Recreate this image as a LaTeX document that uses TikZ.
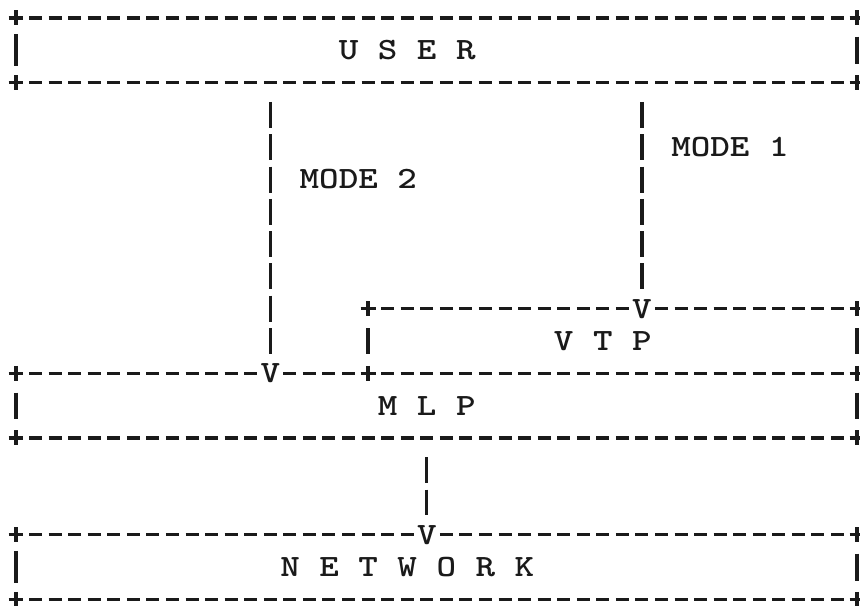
\documentclass[tikz,border=0pt]{standalone}
\definecolor{inkc}{HTML}{1A1A1A}
% typewriter face: Latin Modern Mono, widened so one character fills one cell
\newcommand\twfont{\fontsize{31bp}{31bp}\ttfamily\bfseries}
\newcommand\tw[1]{\scalebox{1.2}[1]{#1}}
\tikzset{
  ink/.style={draw=inkc, line width=3.3bp},
  dashes/.style={ink, dash pattern=on 13bp off 6.56bp},
  bars/.style={ink, dash pattern=on 26bp off 6.3bp, shorten >=9.85bp},
  glyph/.style={inner sep=0pt, text=inkc, font=\twfont},
}
\begin{document}
% one unit = one character cell (column) / one typed line (row)
\begin{tikzpicture}[x=19.56bp, y=-32.3bp]
\fill[white] (-0.818,-0.557) rectangle (43.149,18.204);
\useasboundingbox (-0.818,-0.557) rectangle (43.149,18.204);

% corner crosses of the boxes
\foreach \c/\r in {0/0,43/0,0/2,43/2,18/9,43/9,0/11,18/11,43/11,0/13,43/13,0/16,43/16,0/18,43/18}
  \draw[ink] (\c-0.383,\r) -- (\c+0.383,\r) (\c,\r-0.232) -- (\c,\r+0.232);

% horizontal edges typed as rows of hyphens (first and last cell of each run)
\foreach \r/\a/\b in {0/1/42, 2/1/42,
                      9/19/31, 9/33/42,
                      11/1/12, 11/14/17, 11/19/42,
                      13/1/42,
                      16/1/20, 16/22/42,
                      18/1/42}
  \draw[dashes] (\a-0.332,\r) -- (\b+0.332,\r);

% vertical sides of the boxes
\foreach \c/\r/\h in {0/1/0.5, 43/1/0.42, 18/10/0.4, 43/10/0.4,
                      0/12/0.4, 43/12/0.4, 0/17/0.5, 43/17/0.42}
  \draw[ink] (\c,\r-\h) -- (\c,\r+\h);

% box labels
\node[glyph] (user) at (20,1)  {\tw{U S E R}};
\node[glyph] (vtp)  at (30,10) {\tw{V T P}};
\node[glyph] (mlp)  at (21,12) {\tw{M L P}};
\node[glyph] (net)  at (20,17) {\tw{N E T W O R K}};

% arrow heads typed as the letter V
\node[glyph] (v1) at (32,9)  {\tw{V}};
\node[glyph] (v2) at (13,11) {\tw{V}};
\node[glyph] (v3) at (21,16) {\tw{V}};

% connectors
\coordinate (m1top) at (32,2.598);
\coordinate (m2top) at (13,2.598);
\coordinate (mlptop) at (21,13.598);
\draw[bars] (m1top) -- (v1);
\draw[bars] (m2top) -- (v2);
\draw[bars] (mlptop) -- (v3);

\node[glyph] (mode1) at (36.5,4) {\tw{MODE 1}};
\node[glyph] (mode2) at (17.5,5) {\tw{MODE 2}};
\end{tikzpicture}
\end{document}
